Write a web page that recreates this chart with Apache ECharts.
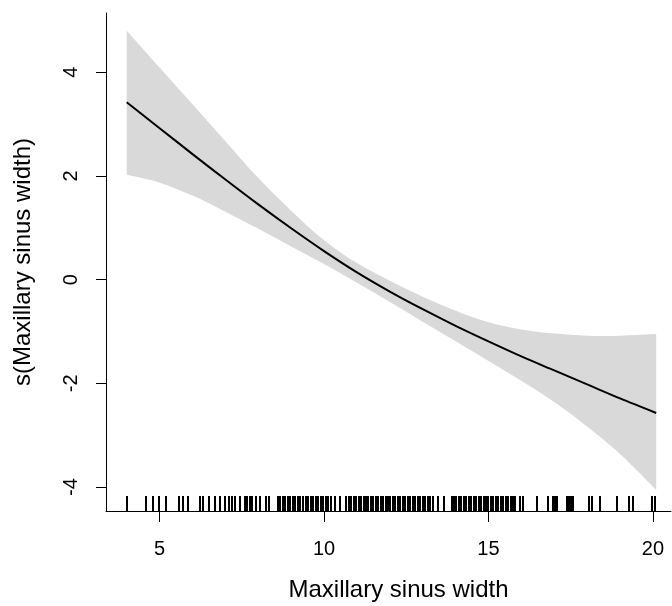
<!DOCTYPE html>
<html>
<head>
<meta charset="utf-8">
<script src="https://cdn.jsdelivr.net/npm/echarts@6/dist/echarts.min.js"></script>
<style>
  html, body { margin: 0; padding: 0; background: #fff; }
  #chart { width: 672px; height: 606px; }
</style>
</head>
<body>
<div id="chart"></div>
<script>
// smooth term s(Maxillary sinus width)
var xs    = [4.0, 5.0, 6.0, 7.0, 8.0, 9.0, 10.0, 11.0, 12.0, 13.0, 14.0, 15.0, 16.0, 17.0, 18.0, 19.0, 20.1];
var fit   = [3.42, 2.92, 2.42, 1.93, 1.45, 0.99, 0.55, 0.14, -0.23, -0.57, -0.89, -1.19, -1.48, -1.75, -2.02, -2.29, -2.57];
var upper = [4.80, 4.09, 3.38, 2.67, 1.96, 1.33, 0.76, 0.32, -0.02, -0.33, -0.60, -0.82, -0.96, -1.04, -1.08, -1.08, -1.05];
var lower = [2.02, 1.87, 1.62, 1.31, 0.98, 0.64, 0.30, -0.06, -0.43, -0.81, -1.19, -1.57, -1.95, -2.36, -2.83, -3.36, -4.05];

// rug of observed widths
var rugX = [4.0, 4.6, 4.8, 4.98, 5.2, 5.6, 5.7, 5.86, 6.22, 6.32, 6.5, 6.68, 6.85,
  7.0, 7.1, 7.2, 7.3, 7.44, 7.59, 7.66, 7.74, 7.82, 7.94, 8.04, 8.22, 8.32,
  8.6, 8.67, 8.74, 8.82, 8.9, 8.97, 9.05, 9.12, 9.2, 9.28, 9.36, 9.45,
  9.52, 9.6, 9.67, 9.75, 9.82, 9.9, 9.97, 10.05, 10.12, 10.2, 10.33, 10.48,
  10.68, 10.75, 10.82, 10.9, 10.97, 11.05, 11.12, 11.2, 11.27, 11.35, 11.42, 11.5,
  11.57, 11.65, 11.72, 11.8, 11.87, 11.95, 12.02, 12.1, 12.17, 12.25, 12.32, 12.4,
  12.47, 12.55, 12.62, 12.7, 12.77, 12.85, 12.92, 13.0, 13.07, 13.15, 13.22, 13.3,
  13.48, 13.65, 13.88, 13.95, 14.02, 14.1, 14.17, 14.25, 14.32, 14.4, 14.47, 14.55,
  14.62, 14.7, 14.77, 14.85, 14.92, 15.0, 15.07, 15.15, 15.22, 15.3, 15.37, 15.45,
  15.52, 15.6, 15.67, 15.75, 15.8, 15.96, 16.05, 16.49, 16.8, 16.95, 17.02, 17.08,
  17.38, 17.45, 17.52, 17.58, 18.07, 18.14, 18.4, 18.9, 19.28, 19.38, 19.97, 20.07];

var xTicks = [5, 10, 15, 20];
var yTicks = [-4, -2, 0, 2, 4];

var X_MIN = 3.37, X_MAX = 20.55;
var Y_MIN = -4.46, Y_MAX = 5.14;
var FONT = 'Liberation Sans, Arial, sans-serif';

var fitData = xs.map(function (x, i) { return [x, fit[i]]; });
var bandData = xs.map(function (x, i) { return [x, lower[i], upper[i]]; });
var rugData = rugX.map(function (x) { return [x]; });

// smooth curve through pixel points (catmull-rom to bezier)
function curveSegs(pts) {
  var d = '';
  for (var i = 0; i < pts.length - 1; i++) {
    var p0 = pts[i - 1] || pts[i], p1 = pts[i], p2 = pts[i + 1], p3 = pts[i + 2] || p2;
    var c1x = p1[0] + (p2[0] - p0[0]) / 6, c1y = p1[1] + (p2[1] - p0[1]) / 6;
    var c2x = p2[0] - (p3[0] - p1[0]) / 6, c2y = p2[1] - (p3[1] - p1[1]) / 6;
    d += ' C' + c1x + ' ' + c1y + ' ' + c2x + ' ' + c2y + ' ' + p2[0] + ' ' + p2[1];
  }
  return d;
}

var chart = echarts.init(document.getElementById('chart'), null, { renderer: 'canvas' });

var option = {
  animation: false,
  backgroundColor: '#ffffff',
  grid: {
    left: 106, right: 1, top: 13, bottom: 95,
    containLabel: false,
    outerBoundsMode: 'none'
  },
  xAxis: {
    type: 'value',
    min: X_MIN, max: X_MAX,
    name: 'Maxillary sinus width',
    nameLocation: 'middle',
    nameGap: 67,
    nameTextStyle: { fontFamily: FONT, fontSize: 24, color: '#000', padding: [0, 0, 0, 20] },
    axisLine: { show: true, onZero: false, lineStyle: { color: '#000', width: 1 } },
    axisTick: { show: true, length: 11, customValues: xTicks, lineStyle: { color: '#000' } },
    axisLabel: { customValues: xTicks, margin: 28, fontFamily: FONT, fontSize: 20, color: '#000' },
    splitLine: { show: false }
  },
  yAxis: {
    type: 'value',
    min: Y_MIN, max: Y_MAX,
    name: 's(Maxillary sinus width)',
    nameLocation: 'middle',
    nameGap: 71,
    nameRotate: 90,
    nameTextStyle: { fontFamily: FONT, fontSize: 24, color: '#000' },
    axisLine: { show: true, onZero: false, lineStyle: { color: '#000', width: 1 } },
    axisTick: { show: true, length: 10, customValues: yTicks, lineStyle: { color: '#000' } },
    axisLabel: { customValues: yTicks, rotate: 90, margin: 25, fontFamily: FONT, fontSize: 20, color: '#000' },
    splitLine: { show: false }
  },
  series: [
    {
      // confidence band: one polygon built from every row through api.coord
      name: 'band',
      type: 'custom',
      data: bandData,
      silent: true,
      z: 1,
      renderItem: function (params, api) {
        if (params.dataIndex !== 0) return null;
        var top = [], bot = [];
        for (var i = 0; i < bandData.length; i++) {
          top.push(api.coord([bandData[i][0], bandData[i][2]]));
          bot.push(api.coord([bandData[i][0], bandData[i][1]]));
        }
        bot.reverse();
        var d = 'M' + top[0][0] + ' ' + top[0][1] + curveSegs(top) +
          ' L' + bot[0][0] + ' ' + bot[0][1] + curveSegs(bot) + ' Z';
        return {
          type: 'path',
          shape: { pathData: d },
          style: { fill: '#d9d9d9', stroke: null }
        };
      }
    },
    {
      name: 'fit',
      type: 'line',
      data: fitData,
      smooth: 0.3,
      symbol: 'none',
      lineStyle: { color: '#000', width: 2 },
      silent: true,
      z: 5
    },
    {
      name: 'rug',
      type: 'custom',
      data: rugData,
      silent: true,
      z: 6,
      renderItem: function (params, api) {
        var p = api.coord([api.value(0), Y_MIN]);
        var px = Math.round(p[0]);
        return {
          type: 'line',
          shape: { x1: px, y1: p[1], x2: px, y2: p[1] - 15 },
          style: { stroke: '#000', lineWidth: 2 }
        };
      }
    }
  ]
};

chart.setOption(option);
</script>
</body>
</html>
